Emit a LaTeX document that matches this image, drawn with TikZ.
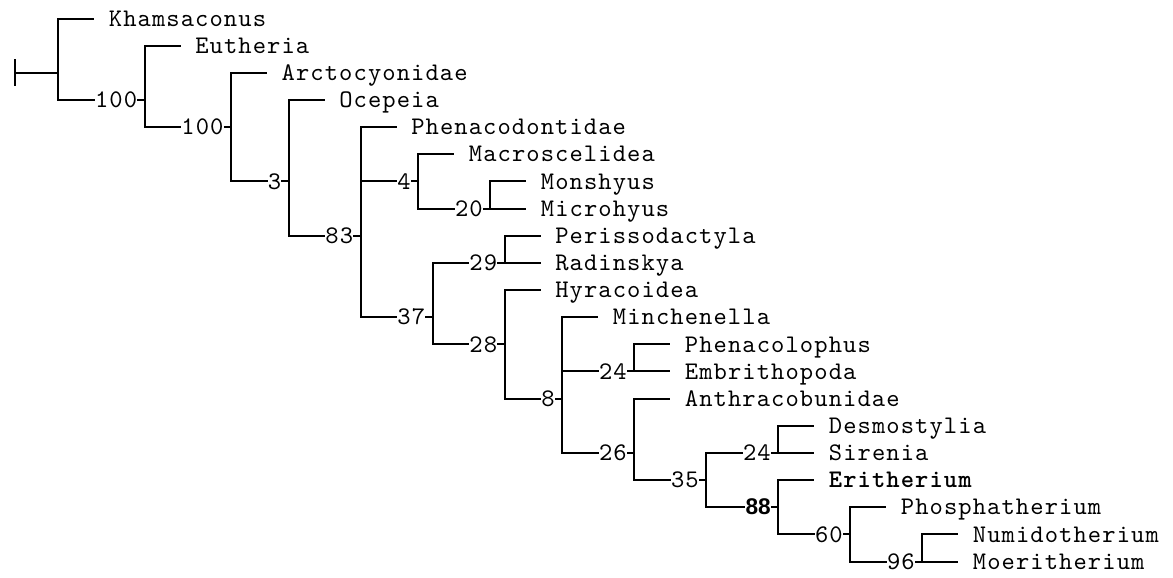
\documentclass[tikz,border=0pt]{standalone}
\usepackage{fontspec}
\newfontfamily\supportsans{Liberation Sans}
% typewriter text on a fixed grid of 10.8pt per character
\newfontfamily\treemono{lmmono10-regular}[Extension=.otf,BoldFont=lmmonolt10-bold,LetterSpace=4.3]
\newcommand{\treefont}{\fontsize{19pt}{22pt}\selectfont\treemono}

\begin{document}
\begin{tikzpicture}[x=10.8pt,y=-20.3625pt,
    branch/.style={line width=1.5pt},
    vbranch/.style={line width=1.5pt,line cap=rect},
    taxon/.style={anchor=west,inner sep=0pt,text height=11.6pt,text depth=0pt,font=\treefont},
    support/.style={anchor=east,inner sep=0pt,text height=11.6pt,text depth=0pt,font=\treefont}]
    \useasboundingbox (-1.0417,0.3186) rectangle (80.417,21.571);

    % Internal nodes (column, row)
    \coordinate (base) at (0,3);
    \coordinate (root) at (3,3);
    \coordinate (n1) at (9,4);
    \coordinate (n2) at (15,5);
    \coordinate (n3) at (19,7);
    \coordinate (n4) at (24,9);
    \coordinate (n5) at (28,7);
    \coordinate (n6) at (33,8);
    \coordinate (n7) at (29,12);
    \coordinate (n8) at (34,10);
    \coordinate (n9) at (34,13);
    \coordinate (n10) at (38,15);
    \coordinate (n11) at (43,14);
    \coordinate (n12) at (43,17);
    \coordinate (n13) at (48,18);
    \coordinate (n14) at (53,17);
    \coordinate (n15) at (53,19);
    \coordinate (n16) at (58,20);
    \coordinate (n17) at (63,21);

    % Root stub
    \draw[branch] (base) -- (root);
    \draw[branch] ([yshift=10.2pt]base) -- ([yshift=-10.2pt]base);

    % Support values
    \foreach \n/\up/\s in {n1/root/100, n2/n1/100, n3/n2/3, n4/n3/83, n5/n4/4,
        n6/n5/20, n7/n4/37, n8/n7/29, n9/n7/28, n10/n9/8, n11/n10/24,
        n12/n10/26, n13/n12/35, n14/n13/24, n16/n15/60, n17/n16/96} {
        \node[support] (l\n) at ([xshift=-5.4pt]\n) {\s};
        \draw[branch] (\up |- \n) -- (l\n.west);
        \draw[branch] (l\n.east) -- (\n);
    }
    % Bold support value for the Eritherium clade
    \node[support,font=\fontsize{17pt}{20pt}\selectfont\supportsans\bfseries] (ln15) at ([xshift=-5.4pt]n15) {88};
    \draw[branch] (n13 |- n15) -- (ln15.west);
    \draw[branch] (ln15.east) -- (n15);

    % Terminal taxa
    \foreach \nm/\up/\x/\r/\txt in {khamsaconus/root/6.5/1/Khamsaconus,
        eutheria/n1/12.5/2/Eutheria, arctocyonidae/n2/18.5/3/Arctocyonidae,
        ocepeia/n3/22.5/4/Ocepeia, phenacodontidae/n4/27.5/5/Phenacodontidae,
        macroscelidea/n5/31.5/6/Macroscelidea, monshyus/n6/36.5/7/Monshyus,
        microhyus/n6/36.5/8/Microhyus, perissodactyla/n8/37.5/9/Perissodactyla,
        radinskya/n8/37.5/10/Radinskya, hyracoidea/n9/37.5/11/Hyracoidea,
        minchenella/n10/41.5/12/Minchenella, phenacolophus/n11/46.5/13/Phenacolophus,
        embrithopoda/n11/46.5/14/Embrithopoda, anthracobunidae/n12/46.5/15/Anthracobunidae,
        desmostylia/n14/56.5/16/Desmostylia, sirenia/n14/56.5/17/Sirenia,
        phosphatherium/n16/61.5/19/Phosphatherium,
        numidotherium/n17/66.5/20/Numidotherium, moeritherium/n17/66.5/21/Moeritherium} {
        \node[taxon] (\nm) at (\x,\r) {\txt};
        \draw[branch] (\up |- \nm) -- ([xshift=-10.8pt]\nm.west);
    }
    \node[taxon,font=\treefont\bfseries] (eritherium) at (56.5,18) {Eritherium};
    \draw[branch] (n15 |- eritherium) -- ([xshift=-10.8pt]eritherium.west);

    % Vertical bars of the clades
    \foreach \n/\a/\b in {root/khamsaconus/ln1, n1/eutheria/ln2, n2/arctocyonidae/ln3,
        n3/ocepeia/ln4, n4/phenacodontidae/ln7, n5/macroscelidea/ln6,
        n6/monshyus/microhyus, n7/ln8/ln9, n8/perissodactyla/radinskya,
        n9/hyracoidea/ln10, n10/minchenella/ln12, n11/phenacolophus/embrithopoda,
        n12/anthracobunidae/ln13, n13/ln14/ln15, n14/desmostylia/sirenia,
        n15/eritherium/ln16, n16/phosphatherium/ln17, n17/numidotherium/moeritherium} {
        \draw[vbranch] (\n |- \a) -- (\n |- \b);
    }
\end{tikzpicture}
\end{document}
